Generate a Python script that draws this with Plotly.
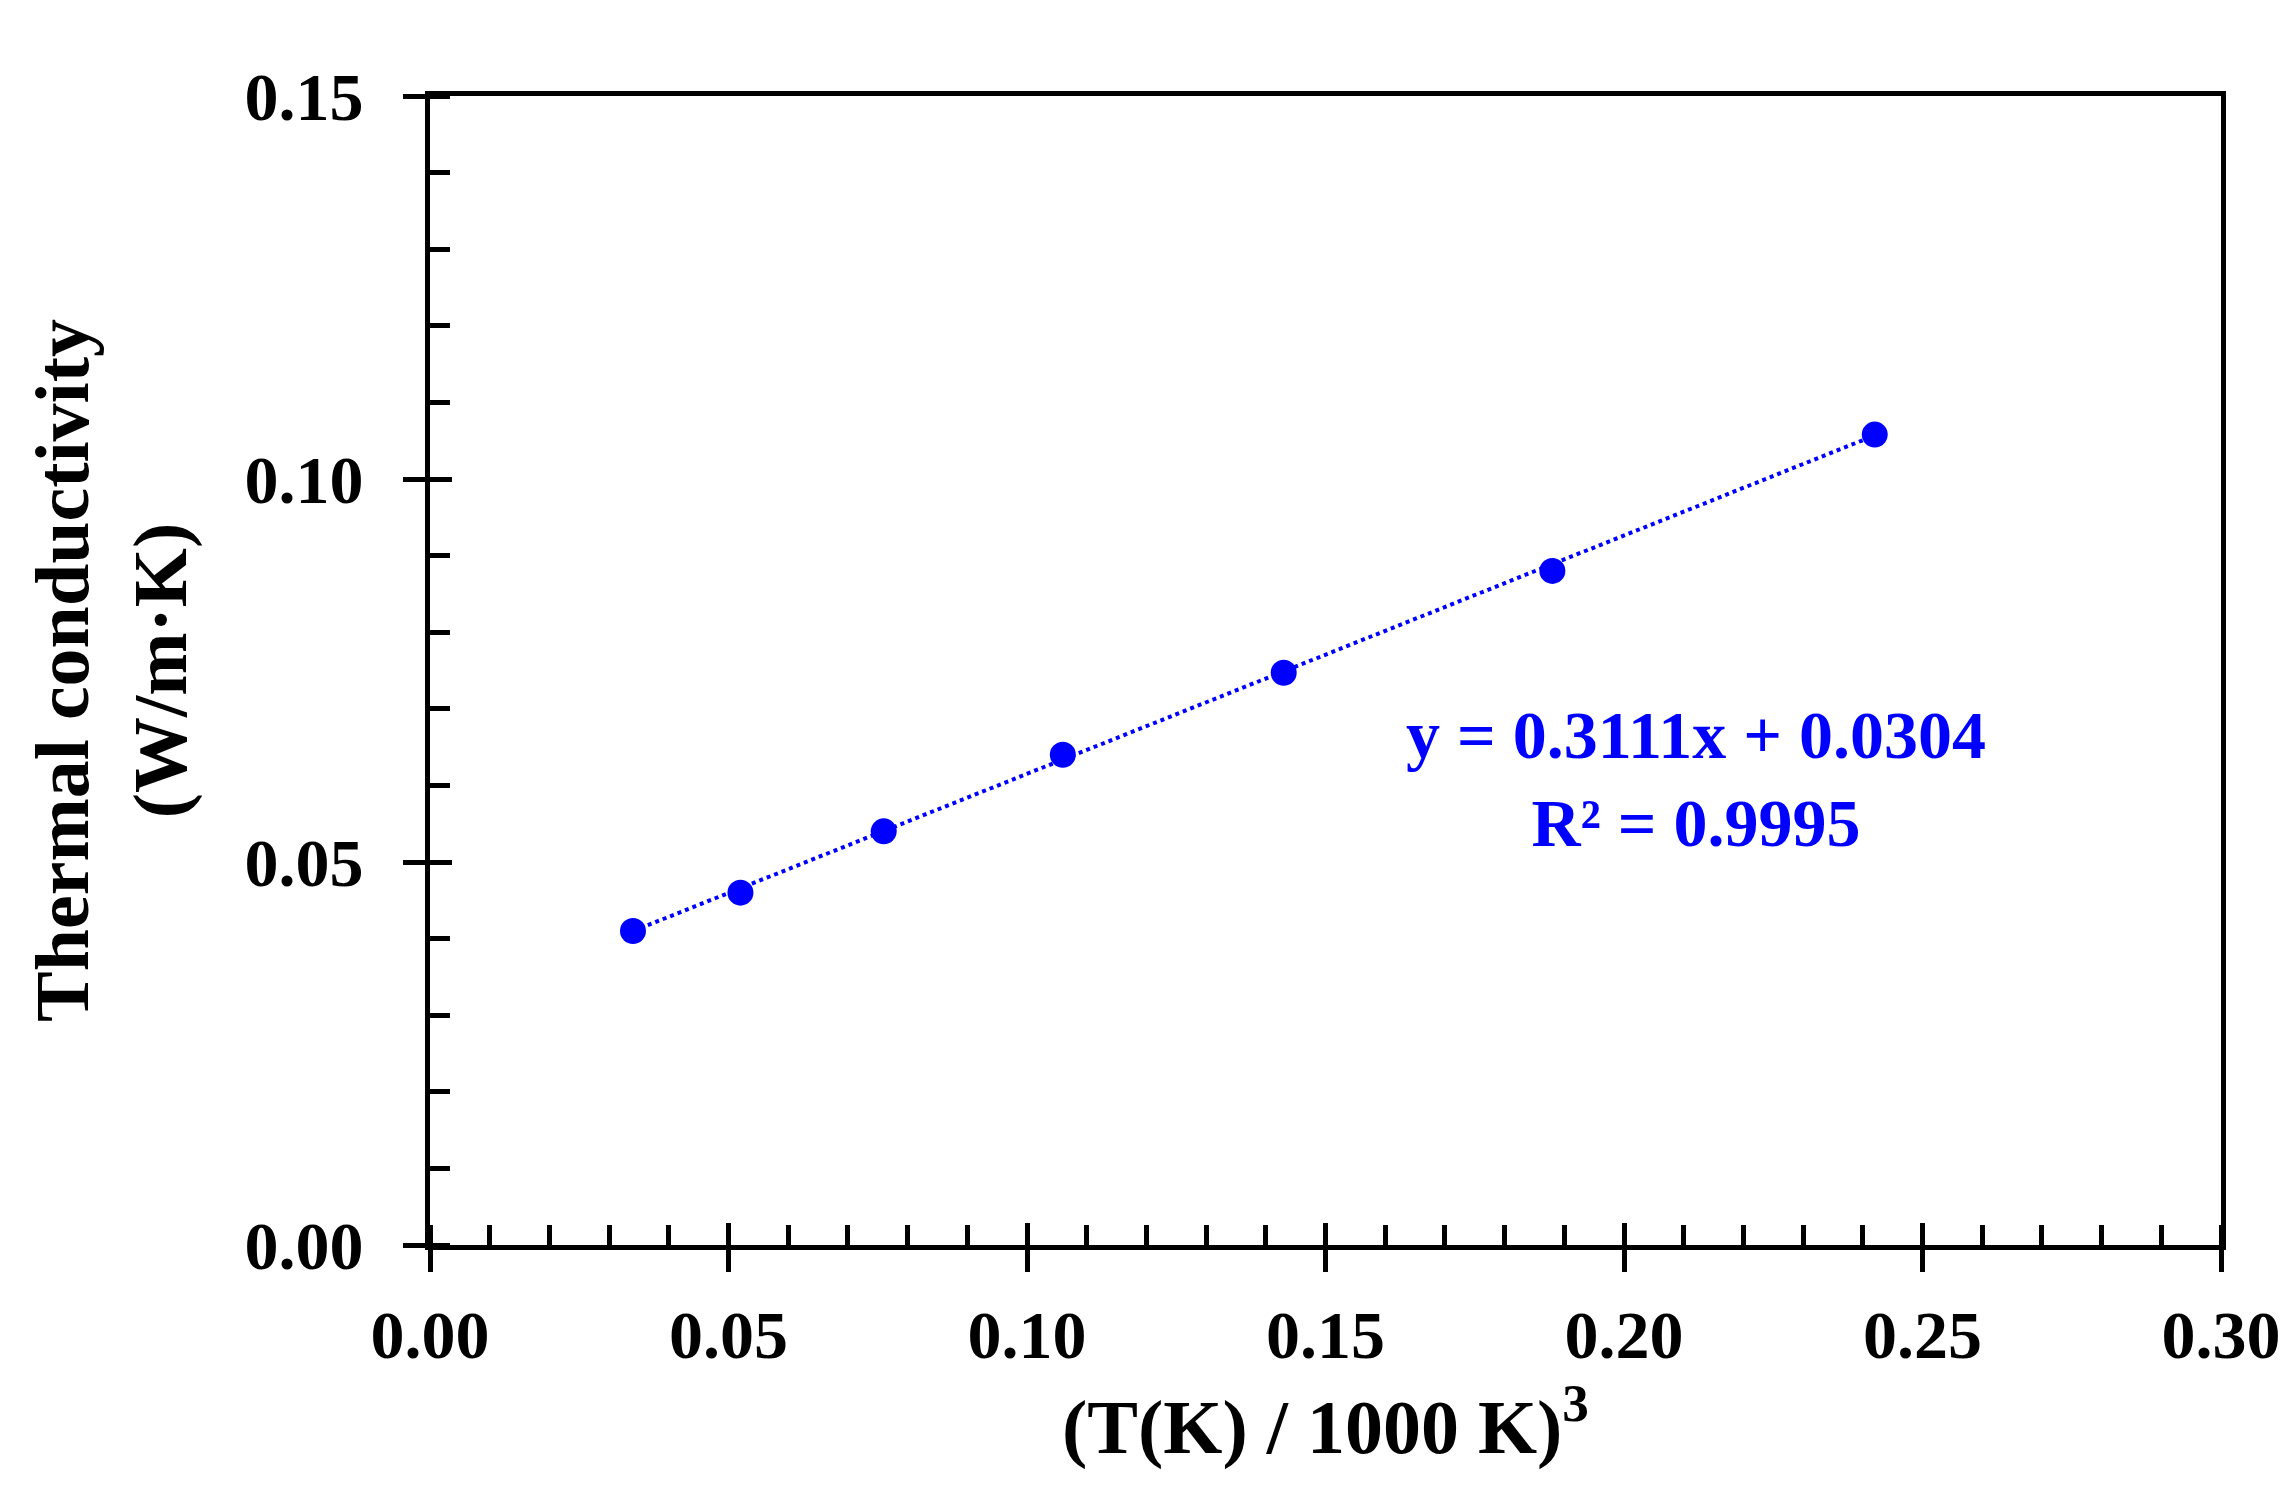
import plotly.graph_objects as go

# Data
x_vals = [0.034, 0.052, 0.076, 0.106, 0.143, 0.188, 0.242]
y_vals = [0.041, 0.046, 0.054, 0.064, 0.0747, 0.088, 0.1058]

# Linear trendline reported on the chart
slope = 0.3111
intercept = 0.0304
r_squared = 0.9995

x_ticks = [0.00, 0.05, 0.10, 0.15, 0.20, 0.25, 0.30]
y_ticks = [0.00, 0.05, 0.10, 0.15]

BLUE = "#0000FF"
FONT = "Liberation Serif"

trend_x = [min(x_vals), max(x_vals)]
trend_y = [slope * v + intercept for v in trend_x]

fig = go.Figure()
fig.add_trace(go.Scatter(
    x=trend_x, y=trend_y, mode="lines",
    line=dict(color=BLUE, width=4, dash="dot"),
    showlegend=False, hoverinfo="skip"))
fig.add_trace(go.Scatter(
    x=x_vals, y=y_vals, mode="markers",
    marker=dict(color=BLUE, size=26),
    showlegend=False))

# invisible trace for the overlay axes (inner half of major ticks)
fig.add_trace(go.Scatter(x=[None], y=[None], xaxis="x2", yaxis="y2",
                         showlegend=False, hoverinfo="skip"))

tickfont = dict(family=FONT, size=68, color="black", weight="bold")
titlefont = dict(family=FONT, size=76, color="black", weight="bold")

LW = 5

fig.update_layout(
    width=2291, height=1493,
    margin=dict(l=422, r=78, t=88, b=256),
    paper_bgcolor="white", plot_bgcolor="white",
    xaxis=dict(
        range=[0, 0.30], tickvals=x_ticks,
        ticktext=[f"{v:.2f}" for v in x_ticks],
        ticks="outside", ticklen=22, tickwidth=LW, tickcolor="black",
        minor=dict(dtick=0.01, ticks="inside", ticklen=20, tickwidth=LW, tickcolor="black"),
        showline=True, linecolor="black", linewidth=LW, mirror=True,
        showgrid=False, zeroline=False, automargin=False,
        tickfont=tickfont, ticklabelstandoff=4,
        title=dict(text="(T(K) / 1000 K)<sup>3</sup>", font=titlefont, standoff=30),
    ),
    yaxis=dict(
        range=[0, 0.15], tickvals=y_ticks,
        ticktext=[f"{v:.2f}" for v in y_ticks],
        ticks="outside", ticklen=22, tickwidth=LW, tickcolor="black",
        minor=dict(dtick=0.01, ticks="inside", ticklen=20, tickwidth=LW, tickcolor="black"),
        showline=True, linecolor="black", linewidth=LW, mirror=True,
        showgrid=False, zeroline=False, automargin=False,
        tickfont=tickfont, ticklabelstandoff=26,
        title=dict(text="Thermal conductivity<br>(W/m·K)", font=titlefont, standoff=34),
    ),
    xaxis2=dict(
        range=[0, 0.30], overlaying="x", side="bottom", tickvals=x_ticks,
        ticks="inside", ticklen=22, tickwidth=LW, tickcolor="black",
        showticklabels=False, showline=False, showgrid=False, zeroline=False,
        automargin=False,
    ),
    yaxis2=dict(
        range=[0, 0.15], overlaying="y", side="left", tickvals=y_ticks,
        ticks="inside", ticklen=22, tickwidth=LW, tickcolor="black",
        showticklabels=False, showline=False, showgrid=False, zeroline=False,
        automargin=False,
    ),
    annotations=[dict(
        xref="paper", yref="paper", x=0.7066, y=0.406,
        xanchor="center", yanchor="middle",
        text=f"y = {slope:.4f}x + {intercept:.4f}<br>R² = {r_squared:.4f}",
        showarrow=False, align="center",
        font=dict(family=FONT, size=68, color=BLUE, weight="bold"),
    )],
)

fig.write_html("out.html")
